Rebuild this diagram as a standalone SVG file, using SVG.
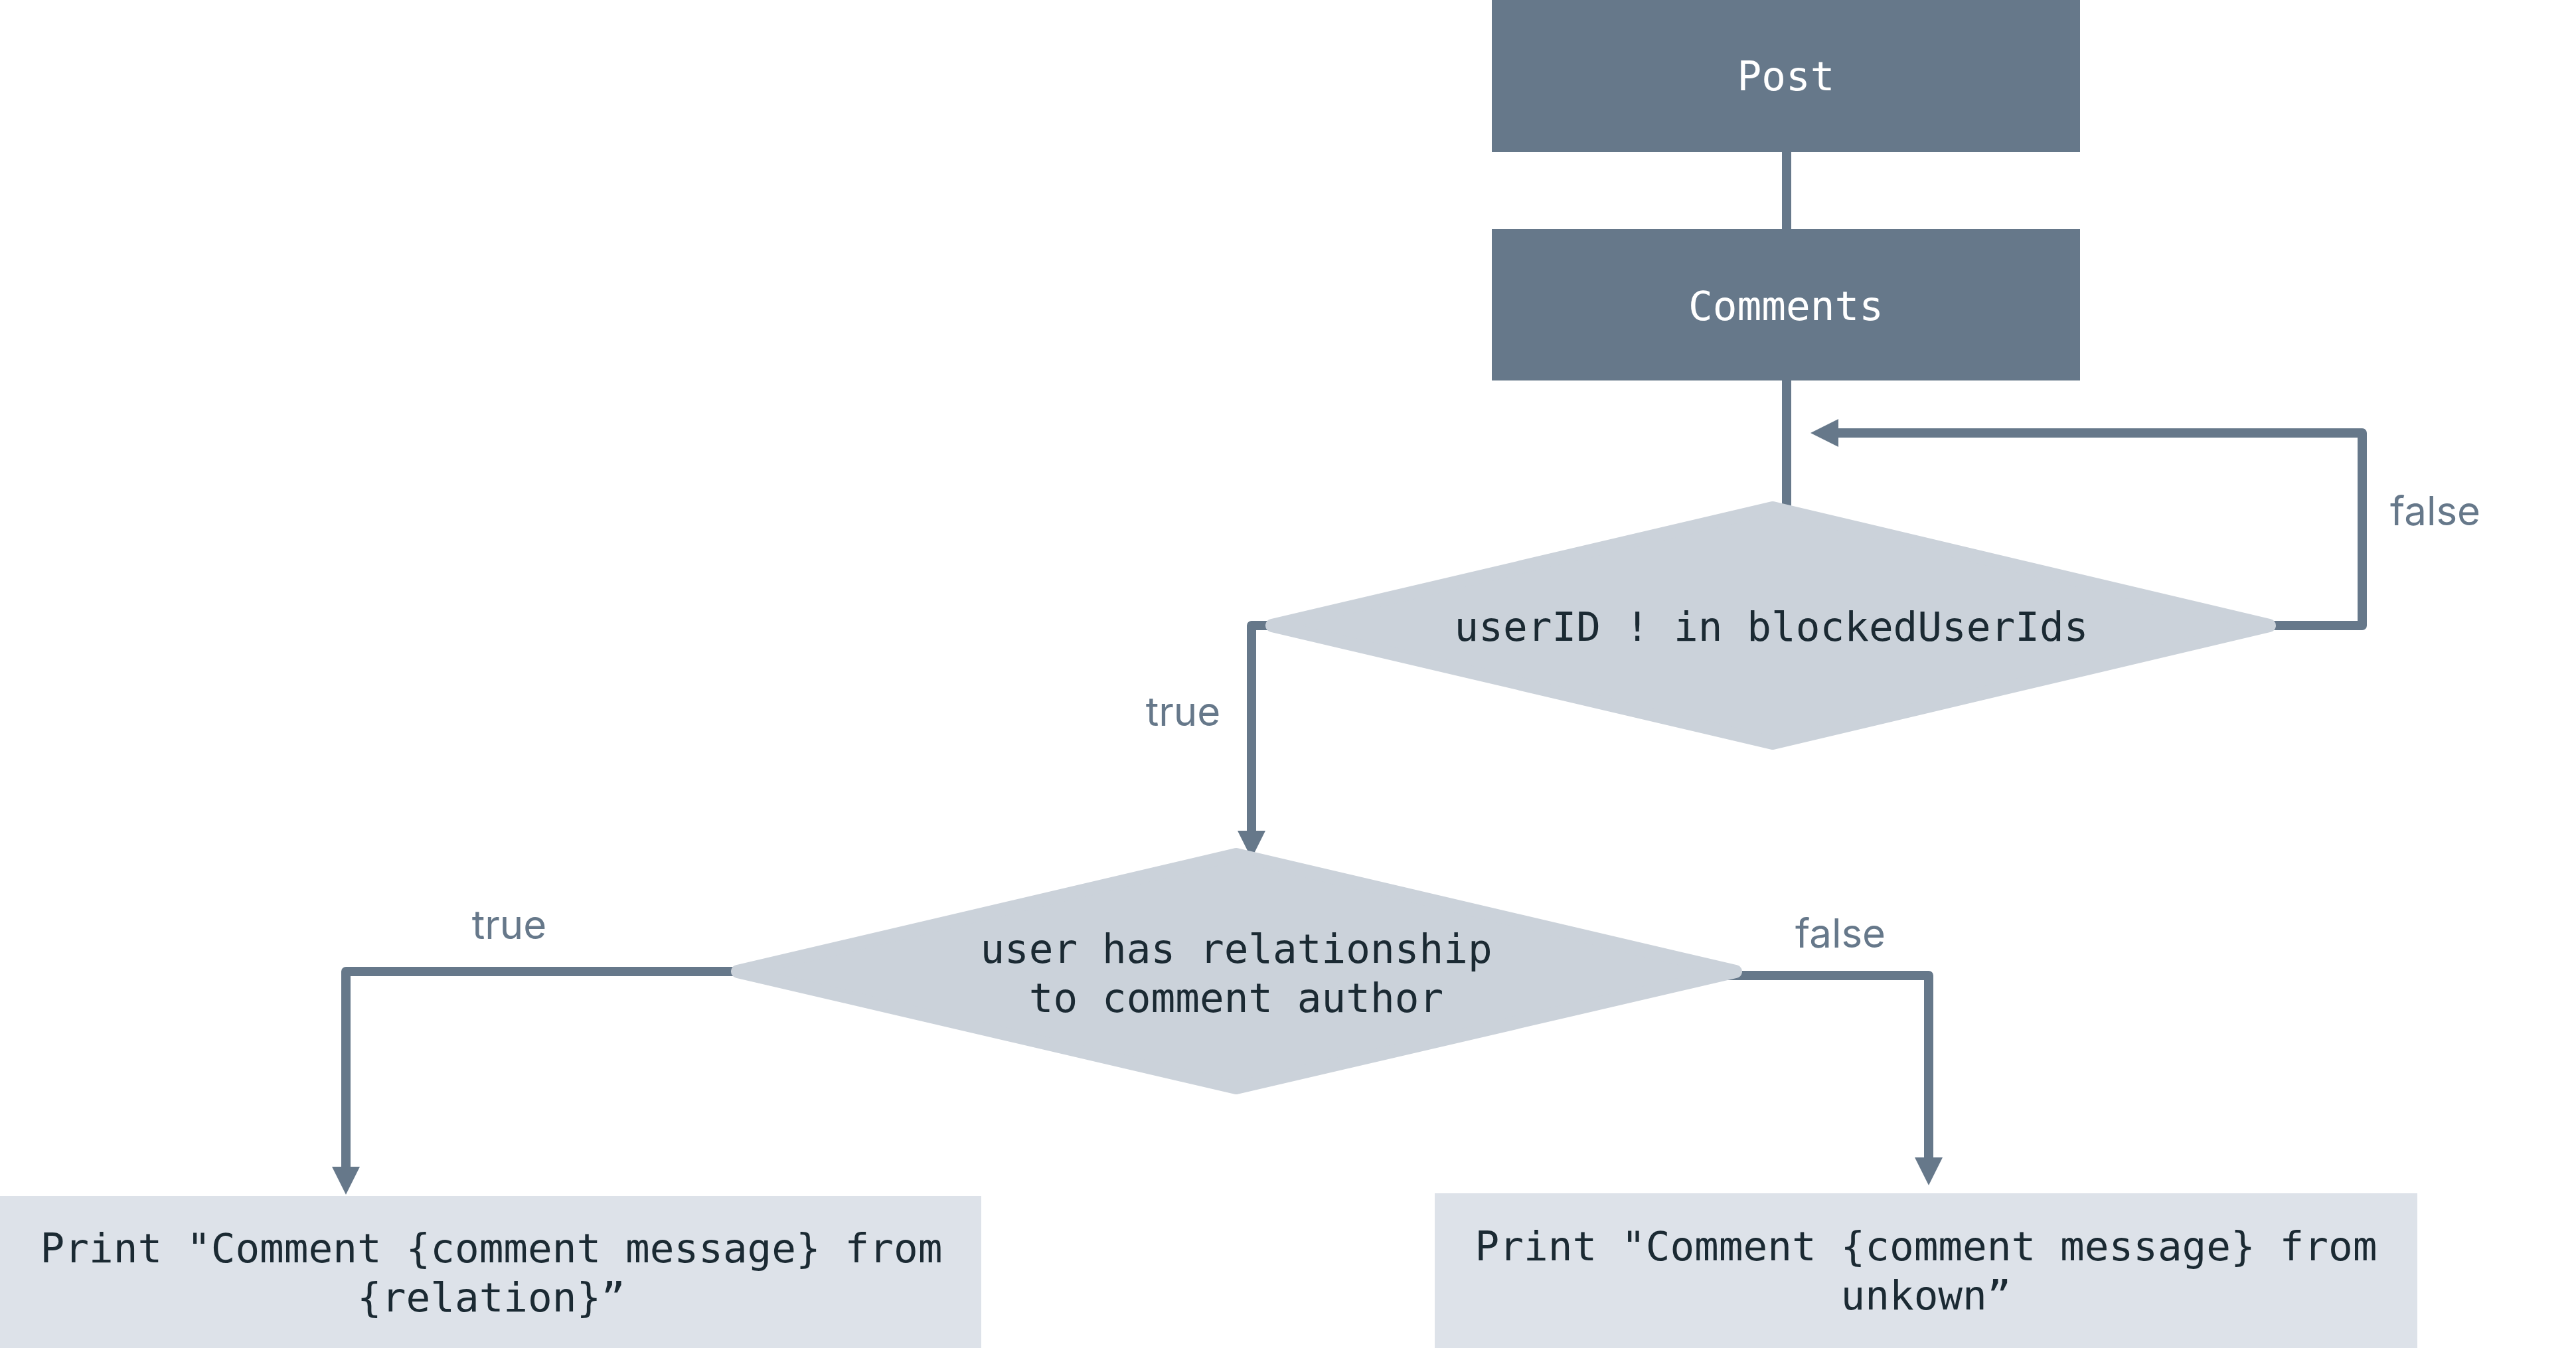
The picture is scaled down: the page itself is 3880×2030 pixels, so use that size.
<svg xmlns="http://www.w3.org/2000/svg" width="3880" height="2030" viewBox="0 0 3880 2030">
<style>
.dark{fill:#66788a}
.dia{fill:#cbd2da;stroke:#cbd2da;stroke-width:20;stroke-linejoin:round}
.light{fill:#dde2e9}
.mono{font-family:"DejaVu Sans Mono",monospace;font-size:61px;text-anchor:middle}
.wt{fill:#ffffff}
.dk{fill:#1b2a33}
.lbl{font-family:Inter,"Liberation Sans",sans-serif;font-size:60px;fill:#66788a;text-anchor:middle}
.conn{fill:none;stroke:#66788a;stroke-width:14;stroke-linejoin:round}
</style>
<defs>
<marker id="arr" viewBox="0 0 42 42" refX="0" refY="21" markerWidth="42" markerHeight="42" markerUnits="userSpaceOnUse" orient="auto">
<path d="M0,0 L42,21 L0,42 z" fill="#66788a"/>
</marker>
</defs>
<rect width="3880" height="2030" fill="#ffffff"/>
<g id="connectors">
<path class="conn" d="M2691 224 V350"/>
<path class="conn" d="M2691 568 V790"/>
<path class="conn" d="M3400 942 H3558 V652 H2769" marker-end="url(#arr)"/>
<path class="conn" d="M1930 942 H1885 V1251" marker-end="url(#arr)"/>
<path class="conn" d="M1130 1463 H521 V1757" marker-end="url(#arr)"/>
<path class="conn" d="M2595 1469 H2905 V1743" marker-end="url(#arr)"/>
</g>
<g id="post">
<rect class="dark" x="2247" y="0" width="886" height="229"/>
<text class="mono wt" x="2690" y="136">Post</text>
</g>
<g id="comments">
<rect class="dark" x="2247" y="345" width="886" height="228"/>
<text class="mono wt" x="2690" y="482">Comments</text>
</g>
<g id="decision1">
<polygon class="dia" points="1916,942 2670,765 3418,942 2670,1119"/>
<text class="mono dk" x="2668" y="965">userID ! in blockedUserIds</text>
</g>
<g id="decision2">
<polygon class="dia" points="1111,1463 1862,1287 2614,1463 1862,1638"/>
<text class="mono dk" x="1862" y="1450">user has relationship</text>
<text class="mono dk" x="1862" y="1524">to comment author</text>
</g>
<g id="print-relation">
<rect class="light" x="0" y="1801" width="1478" height="229"/>
<text class="mono dk" x="740" y="1901">Print "Comment {comment message} from</text>
<text class="mono dk" x="740" y="1975">{relation}”</text>
</g>
<g id="print-unknown">
<rect class="light" x="2161" y="1797" width="1480" height="233"/>
<text class="mono dk" x="2901" y="1898">Print "Comment {comment message} from</text>
<text class="mono dk" x="2901" y="1972">unkown”</text>
</g>
<g id="labels">
<text class="lbl" x="3668" y="791">false</text>
<text class="lbl" x="1782" y="1093">true</text>
<text class="lbl" x="767" y="1414">true</text>
<text class="lbl" x="2772" y="1427">false</text>
</g>
</svg>
